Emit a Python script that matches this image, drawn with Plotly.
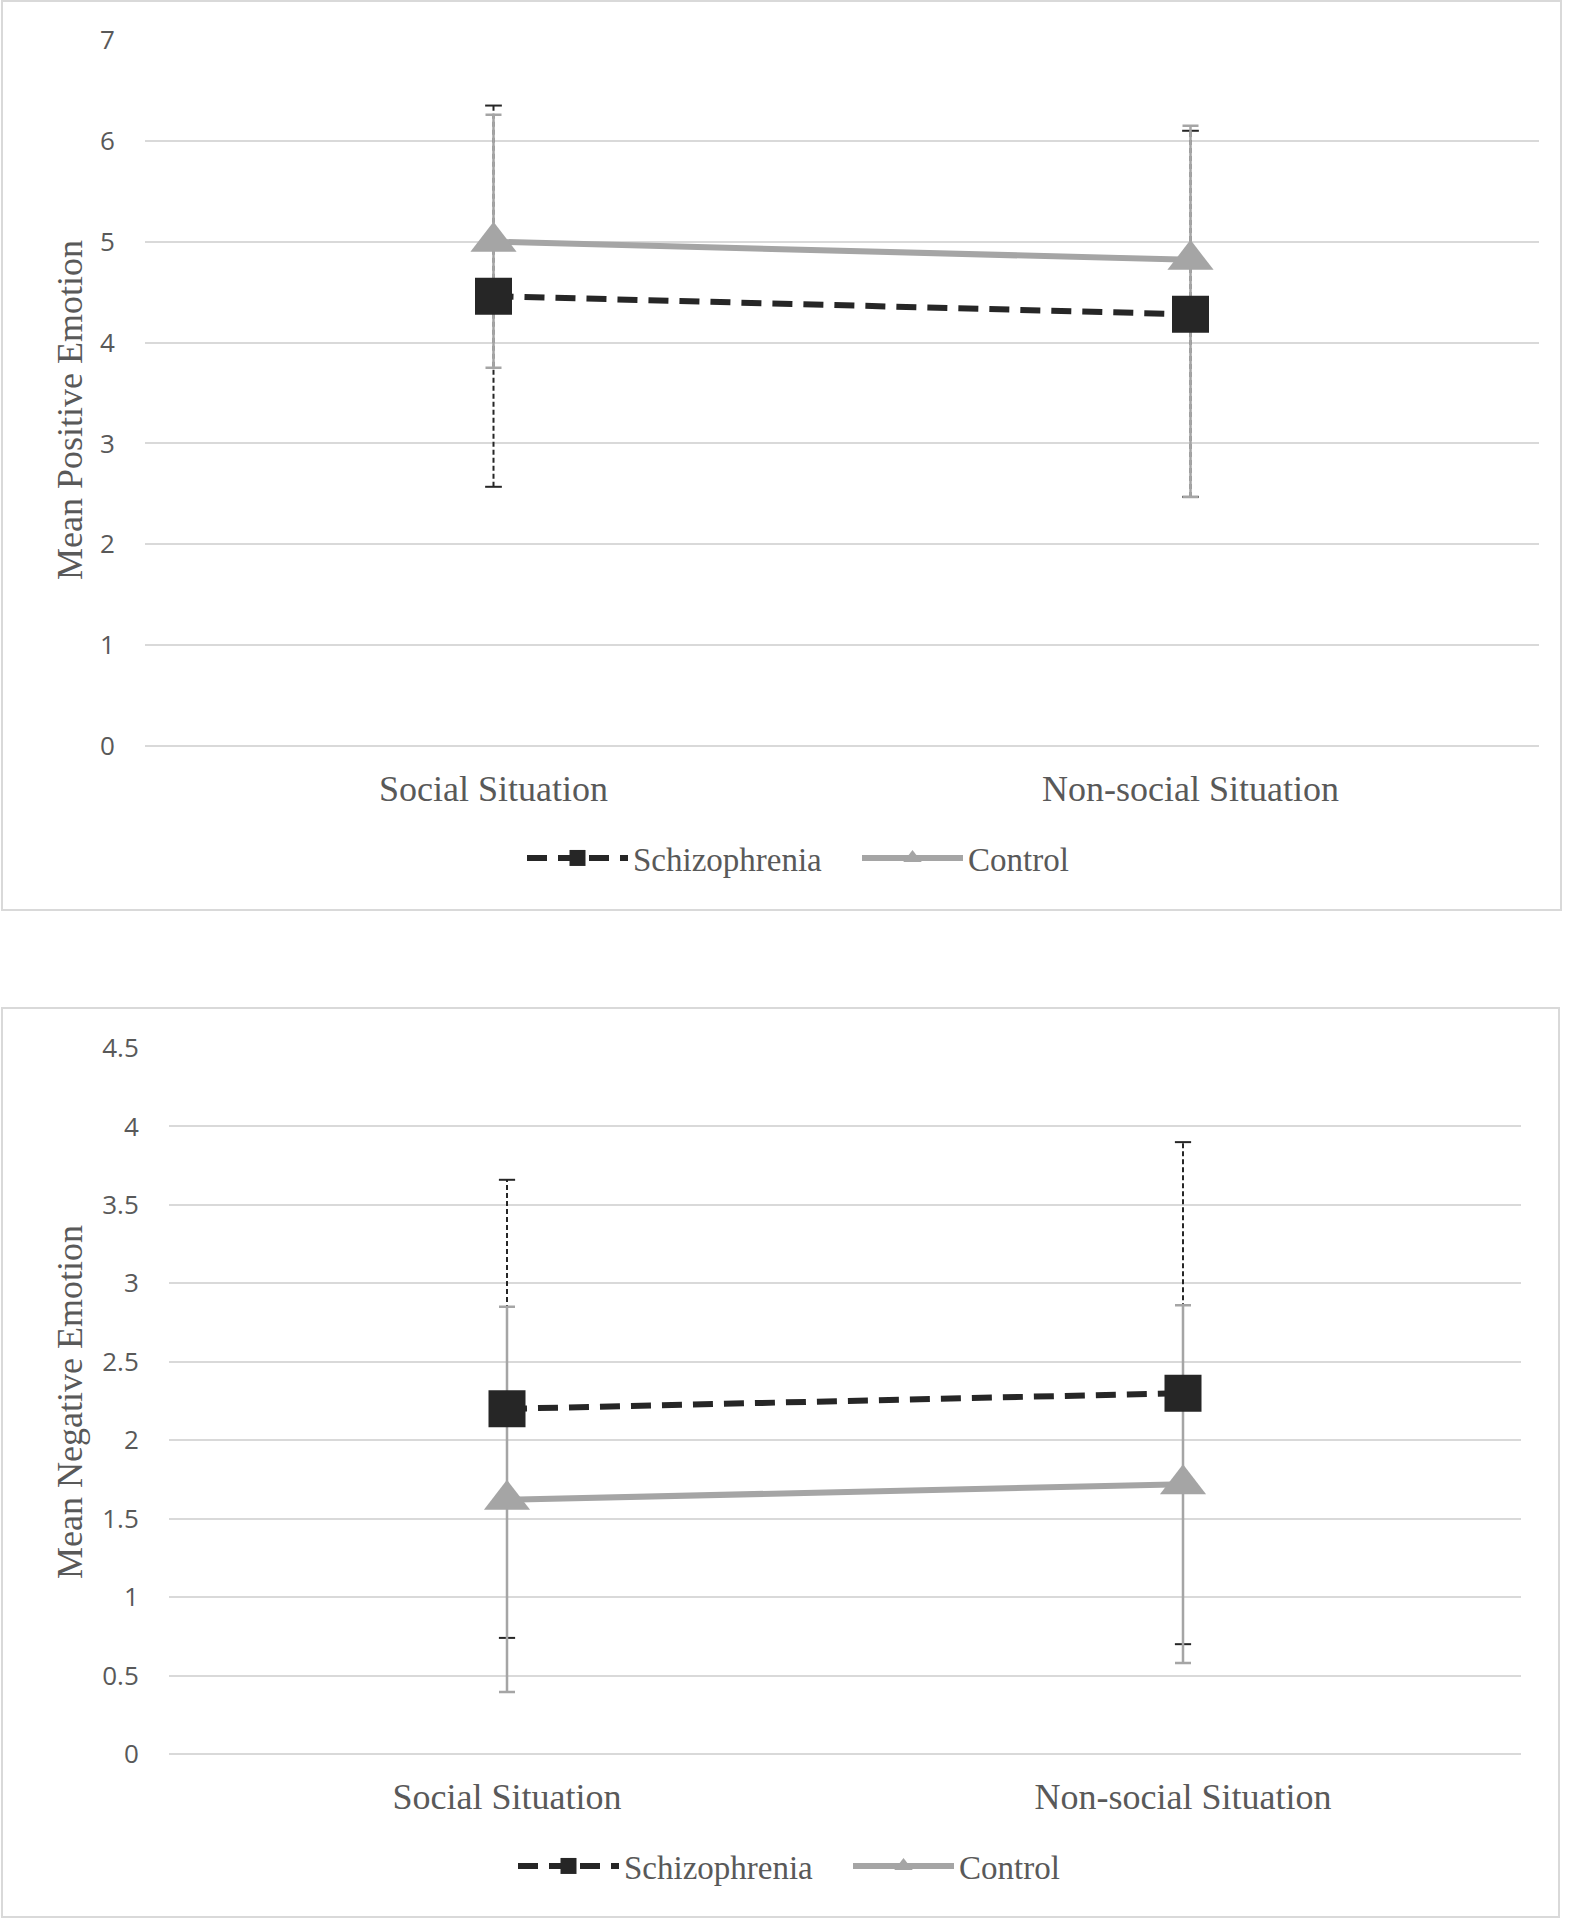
import plotly.graph_objects as go

# ---------------- data ----------------
categories = ["Social Situation", "Non-social Situation"]
series_names = ["Schizophrenia", "Control"]

pos_schiz = [4.46, 4.28]
pos_schiz_plus = [1.89, 1.82]
pos_schiz_minus = [1.89, 1.81]
pos_control = [5.00, 4.82]
pos_control_plus = [1.26, 1.33]
pos_control_minus = [1.25, 2.35]

neg_schiz = [2.20, 2.30]
neg_schiz_plus = [1.46, 1.60]
neg_schiz_minus = [1.46, 1.60]
neg_control = [1.62, 1.72]
neg_control_plus = [1.23, 1.14]
neg_control_minus = [1.225, 1.14]

pos_ticks = [0, 1, 2, 3, 4, 5, 6, 7]
neg_ticks = [0, 0.5, 1, 1.5, 2, 2.5, 3, 3.5, 4, 4.5]
neg_ticktext = ["0", "0.5", "1", "1.5", "2", "2.5", "3", "3.5", "4", "4.5"]

# ---------------- style ----------------
W, H = 1581, 1920
DARK = "#262626"
GREY = "#a5a5a5"
GRID = "#d9d9d9"
TXT = "#595959"
SERIF = "Liberation Serif, Times New Roman, serif"
SANS = "Open Sans, Segoe UI, sans-serif"
CAP = 0.012  # half-width of schizophrenia error caps (x data units)

xpos = list(range(len(categories)))

fig = go.Figure()


def add_panel(xa, ya, legend, schiz, sp, sm, ctrl, cp, cm):
    # schizophrenia error bars (dashed, drawn beneath)
    ex, ey, cx, cy = [], [], [], []
    for x, m, p, n in zip(xpos, schiz, sp, sm):
        ex += [x, x, None]
        ey += [m - n, m + p, None]
        for v in (m - n, m + p):
            cx += [x - CAP, x + CAP, None]
            cy += [v, v, None]
    fig.add_trace(go.Scatter(x=ex, y=ey, xaxis=xa, yaxis=ya, mode="lines",
                             line=dict(color=DARK, width=2, dash="5px,3px"),
                             showlegend=False, hoverinfo="skip"))
    fig.add_trace(go.Scatter(x=cx, y=cy, xaxis=xa, yaxis=ya, mode="lines",
                             line=dict(color=DARK, width=2),
                             showlegend=False, hoverinfo="skip"))
    # control
    fig.add_trace(go.Scatter(
        x=xpos, y=ctrl, xaxis=xa, yaxis=ya, name=series_names[1], legend=legend,
        legendrank=2, mode="lines+markers",
        line=dict(color=GREY, width=6),
        marker=dict(symbol="triangle-up", size=40, color=GREY),
        error_y=dict(type="data", symmetric=False, array=cp, arrayminus=cm,
                     color=GREY, thickness=2.5, width=8)))
    # schizophrenia
    fig.add_trace(go.Scatter(
        x=xpos, y=schiz, xaxis=xa, yaxis=ya, name=series_names[0], legend=legend,
        legendrank=1, mode="lines+markers",
        line=dict(color=DARK, width=6, dash="20px,11px"),
        marker=dict(symbol="square", size=37, color=DARK)))


add_panel("x", "y", "legend", pos_schiz, pos_schiz_plus, pos_schiz_minus,
          pos_control, pos_control_plus, pos_control_minus)
add_panel("x2", "y2", "legend2", neg_schiz, neg_schiz_plus, neg_schiz_minus,
          neg_control, neg_control_plus, neg_control_minus)

xcommon = dict(range=[-0.5, 1.5], tickvals=xpos, ticktext=categories,
               showgrid=False, zeroline=False, showline=False, automargin=False,
               ticks="outside", ticklen=11, tickcolor="rgba(0,0,0,0)",
               tickfont=dict(family=SERIF, size=36, color=TXT), fixedrange=True)
ycommon = dict(showgrid=True, gridcolor=GRID, gridwidth=2, automargin=False,
               zeroline=True, zerolinecolor=GRID, zerolinewidth=2,
               showline=False, ticks="outside", ticklen=24,
               tickcolor="rgba(0,0,0,0)",
               tickfont=dict(family=SANS, size=26, color=TXT))

legend_common = dict(orientation="h", xanchor="left", yanchor="middle",
                     font=dict(family=SERIF, size=33, color=TXT),
                     itemwidth=101, entrywidth=219, bgcolor="rgba(0,0,0,0)")

fig.update_layout(
    width=W, height=H,
    margin=dict(l=0, r=0, t=0, b=0, pad=0),
    paper_bgcolor="white", plot_bgcolor="white",
    xaxis=dict(domain=[145 / W, 1539 / W], anchor="y", **xcommon),
    yaxis=dict(domain=[1 - 746 / H, 1 - 40 / H], anchor="x", range=[0, 7],
               tickvals=pos_ticks, **ycommon),
    xaxis2=dict(domain=[169 / W, 1521 / W], anchor="y2", **xcommon),
    yaxis2=dict(domain=[1 - 1754 / H, 1 - 1048 / H], anchor="x2", range=[0, 4.5],
                tickvals=neg_ticks, ticktext=neg_ticktext, **ycommon),
    legend=dict(x=522 / W, y=1 - 858 / H, **legend_common),
    legend2=dict(x=513 / W, y=1 - 1866 / H, **legend_common),
    showlegend=True,
    shapes=[
        dict(type="rect", xref="paper", yref="paper", x0=2 / W, x1=1561 / W,
             y0=1 - 910 / H, y1=1 - 1 / H, line=dict(color=GRID, width=2)),
        dict(type="rect", xref="paper", yref="paper", x0=2 / W, x1=1559 / W,
             y0=1 - 1917 / H, y1=1 - 1008 / H, line=dict(color=GRID, width=2)),
    ],
    annotations=[
        dict(text="Mean Positive Emotion", xref="paper", yref="paper",
             x=70 / W, y=1 - 410 / H, xanchor="center", yanchor="middle",
             textangle=-90, showarrow=False,
             font=dict(family=SERIF, size=36, color=TXT)),
        dict(text="Mean Negative Emotion", xref="paper", yref="paper",
             x=70 / W, y=1 - 1402 / H, xanchor="center", yanchor="middle",
             textangle=-90, showarrow=False,
             font=dict(family=SERIF, size=36, color=TXT)),
    ],
)

fig.write_html("out.html", config={"displayModeBar": False},
               post_script="document.body.style.margin='0';")
